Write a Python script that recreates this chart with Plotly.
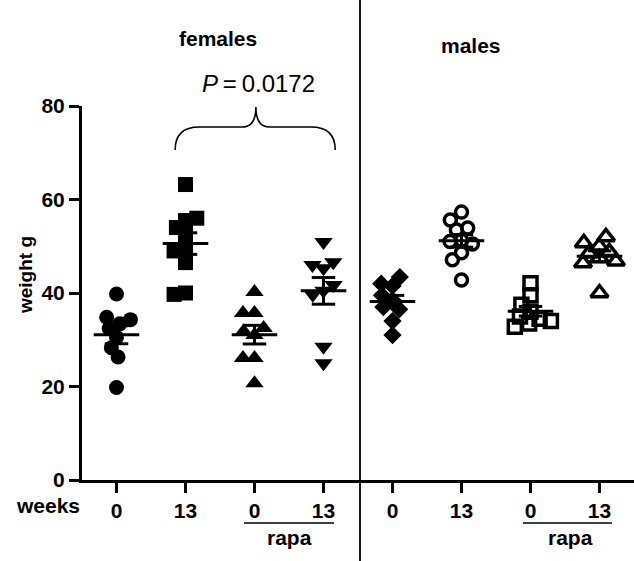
import numpy as np
import plotly.graph_objects as go

# ---------------- data ----------------
tick_labels = ["0", "13", "0", "13", "0", "13", "0", "13"]
females_0 = [39.8, 34.8, 34.3, 33.4, 32.4, 30.5, 28.3, 26.3, 19.8]
females_13 = [63.2, 56.0, 55.5, 54.0, 52.5, 49.3, 49.0, 46.5, 40.0, 39.7]
females_rapa_0 = [40.2, 35.7, 35.7, 32.5, 31.8, 31.0, 26.1, 26.1, 20.7]
females_rapa_13 = [50.9, 46.6, 46.0, 45.3, 41.7, 40.5, 39.6, 28.5, 25.0]
males_0 = [43.4, 42.0, 41.5, 39.5, 38.5, 37.0, 36.5, 34.0, 31.0]
males_13 = [57.3, 55.6, 53.9, 53.5, 51.3, 51.0, 50.5, 48.6, 47.1, 42.8]
males_rapa_0 = [42.1, 39.5, 37.5, 36.0, 35.0, 34.5, 34.0, 33.5, 32.8]
males_rapa_13 = [52.0, 50.7, 50.0, 48.8, 48.5, 47.5, 46.8, 46.4, 40.0]
p_value_text = "<i>P</i>\u2009=\u20090.0172"

groups = [females_0, females_13, females_rapa_0, females_rapa_13,
          males_0, males_13, males_rapa_0, males_rapa_13]

# ---------------- styles ----------------
styles = [
    dict(symbol="circle", size=15),
    dict(symbol="square", size=15),
    dict(symbol="triangle-up", size=16),
    dict(symbol="triangle-down", size=16),
    dict(symbol="diamond", size=14),
    dict(symbol="circle-open", size=12, line=dict(width=3.5, color="black")),
    dict(symbol="square-open", size=13, line=dict(width=3.5, color="black")),
    dict(symbol="triangle-up-open", size=15, line=dict(width=3.5, color="black")),
]

W, H = 634, 561
ML, MR, MT, MB = 82, 0, 106, 81
PW, PH = W - ML - MR, H - MT - MB
PX_PER_CAT = PW / 8.0
PX_PER_UNIT = PH / 80.0


def swarm(vals, D=11.5):
    """Deterministic beeswarm offsets (in category units)."""
    vals = np.asarray(vals, float)
    m = vals.mean()
    order = sorted(range(len(vals)), key=lambda i: abs(vals[i] - m))
    placed = []
    xs = [0.0] * len(vals)
    for i in order:
        y = vals[i] * PX_PER_UNIT
        cands = [0.0]
        for px, py in placed:
            dy = abs(y - py)
            if dy < D:
                w = np.sqrt(D * D - dy * dy)
                cands += [px + w + 0.01, px - w - 0.01]
        ok = [c for c in cands
              if all((c - px) ** 2 + (y - py) ** 2 >= D * D - 1e-6 for px, py in placed)]
        best = min(ok, key=lambda c: (abs(c), c))
        xs[i] = best
        placed.append((best, y))
    return [x / PX_PER_CAT for x in xs]


fig = go.Figure()

for k, (vals, st) in enumerate(zip(groups, styles)):
    pos = k + 1
    offs = swarm(vals)
    fig.add_trace(go.Scatter(
        x=[pos + o for o in offs], y=vals, mode="markers",
        marker=dict(color="black", **st), showlegend=False, hoverinfo="y"))

for k, vals in enumerate(groups):
    pos = k + 1
    arr = np.asarray(vals, float)
    m = arr.mean()
    sem = arr.std(ddof=1) / np.sqrt(len(arr))
    hw, cw = 0.33, 0.17
    xs = [pos - hw, pos + hw, None, pos, pos, None,
          pos - cw, pos + cw, None, pos - cw, pos + cw]
    ys = [m, m, None, m - sem, m + sem, None,
          m + sem, m + sem, None, m - sem, m - sem]
    fig.add_trace(go.Scatter(x=xs, y=ys, mode="lines",
                             line=dict(color="black", width=3),
                             showlegend=False, hoverinfo="skip"))

# brace over females 13 .. females rapa 13
fig.add_shape(type="path",
              path="M 1.85,70.6 Q 1.85,75.5 2.2,75.5 L 2.82,75.5 Q 3.02,75.5 3.02,79.8 "
                   "Q 3.02,75.5 3.22,75.5 L 3.82,75.5 Q 4.17,75.5 4.17,70.6",
              xref="x", yref="y", line=dict(color="black", width=1.6))


def px2x(px):
    return (px - ML) / PW


def py2y(py):
    return (H - MB - py) / PH


# divider between females and males
fig.add_shape(type="line", xref="paper", yref="paper",
              x0=px2x(360), x1=px2x(360), y0=py2y(H + 2), y1=py2y(-2),
              line=dict(color="black", width=1.8))

# rapa lines
for a, b in [(244, 334), (523, 612)]:
    fig.add_shape(type="line", xref="paper", yref="paper",
                  x0=px2x(a), x1=px2x(b), y0=py2y(523), y1=py2y(523),
                  line=dict(color="black", width=1.6))

FAM = "Liberation Sans, Arial, sans-serif"
bold = dict(family=FAM, size=21, color="black", weight="bold")
ann = [
    dict(text="females", x=px2x(218), y=py2y(39)),
    dict(text="males", x=px2x(471), y=py2y(45)),
    dict(text="weeks", x=px2x(48), y=py2y(505)),
    dict(text="rapa", x=px2x(289), y=py2y(537)),
    dict(text="rapa", x=px2x(570), y=py2y(537)),
]
for a in ann:
    fig.add_annotation(xref="paper", yref="paper", showarrow=False,
                       xanchor="center", yanchor="middle", font=bold, **a)

fig.add_annotation(xref="paper", yref="paper", x=px2x(258), y=py2y(83),
                   text=p_value_text, showarrow=False, xanchor="center", yanchor="middle",
                   font=dict(family=FAM, size=24, color="black"))

fig.add_annotation(xref="paper", yref="paper", x=px2x(25), y=py2y(275),
                   text="weight g", textangle=-90, showarrow=False,
                   xanchor="center", yanchor="middle",
                   font=dict(family=FAM, size=19, color="black", weight="bold"))

fig.update_layout(
    width=W, height=H,
    margin=dict(l=ML, r=MR, t=MT, b=MB, pad=0),
    paper_bgcolor="white", plot_bgcolor="white",
    showlegend=False,
    xaxis=dict(range=[0.5, 8.5], tickmode="array", tickvals=list(range(1, 9)),
               ticktext=tick_labels, showline=True, linecolor="black", linewidth=3,
               ticks="outside", ticklen=10, tickwidth=2.5, tickcolor="black",
               showgrid=False, zeroline=False, tickfont=bold, fixedrange=True),
    yaxis=dict(range=[0, 80], tickmode="array", tickvals=[0, 20, 40, 60, 80],
               showline=True, linecolor="black", linewidth=3,
               ticks="outside", ticklen=10, tickwidth=2.5, tickcolor="black",
               showgrid=False, zeroline=False, tickfont=bold, fixedrange=True),
)

fig.write_html("out.html")
